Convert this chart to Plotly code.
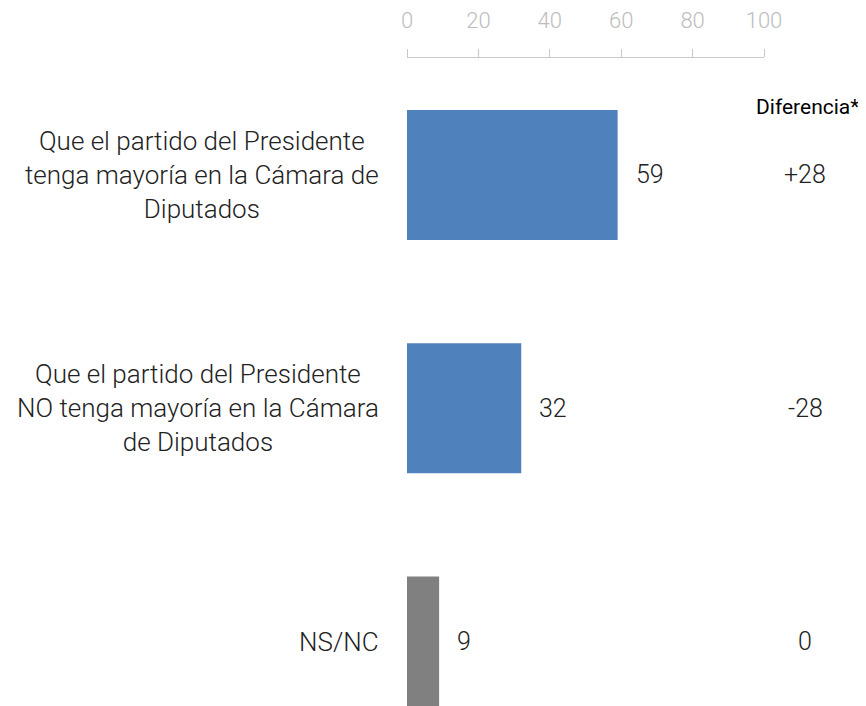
import plotly.graph_objects as go

categories = [
    "Que el partido del Presidente<br>tenga mayoría en la Cámara de<br>Diputados",
    "Que el partido del Presidente<br>NO tenga mayoría en la Cámara<br>de Diputados",
    "NS/NC",
]
values = [59, 32, 9]
diferencias = ["+28", "-28", "0"]
bar_colors = ["#4f81bd", "#4f81bd", "#808080"]
x_ticks = [0, 20, 40, 60, 80, 100]
diff_header = "Diferencia*"

FONT = "Roboto"
idx = list(range(len(categories)))

# page body has an 8px margin; figure sized so plot lands where intended
W, H = 858, 698
L, R, T, B = 399, 102, 50, 0
plot_w = W - L - R
plot_h = H - T - B

fig = go.Figure()
fig.add_trace(go.Bar(
    x=values, y=idx, orientation="h",
    marker=dict(color=bar_colors, line=dict(width=0)),
    width=0.557, hoverinfo="skip",
))

annotations = []
for i, (cat, v, d) in enumerate(zip(categories, values, diferencias)):
    annotations.append(dict(x=0, y=i, xref="x", yref="y", text=cat, showarrow=False,
                            xanchor="right", align="center", xshift=-26,
                            font=dict(family=FONT, size=26, color="#222", weight=300)))
    annotations.append(dict(x=v, y=i, xref="x", yref="y", text=str(v), showarrow=False,
                            xanchor="left", xshift=16,
                            font=dict(family=FONT, size=25, color="#222", weight=300)))
    annotations.append(dict(x=1 + 41 / plot_w, y=i, xref="paper", yref="y", text=d,
                            showarrow=False, xanchor="center",
                            font=dict(family=FONT, size=25, color="#222", weight=300)))
annotations.append(dict(x=1 + 97 / plot_w, y=1 - 49 / plot_h, xref="paper", yref="paper",
                        text=diff_header, showarrow=False, xanchor="right", yanchor="middle",
                        font=dict(family=FONT, size=21, color="#000", weight=400)))

fig.update_layout(
    width=W, height=H,
    margin=dict(l=L, r=R, t=T, b=B, pad=0),
    paper_bgcolor="white", plot_bgcolor="white",
    showlegend=False,
    annotations=annotations,
    xaxis=dict(side="top", range=[0, 100], tickvals=x_ticks,
               ticks="outside", ticklen=8, tickcolor="#c8c8c8", tickwidth=1,
               showline=True, linecolor="#c8c8c8", linewidth=1,
               showgrid=False, zeroline=False,
               tickfont=dict(family=FONT, size=22, color="#bdbdbd", weight=300),
               ticklabelstandoff=12),
    yaxis=dict(range=[2.2765, -0.5015], showticklabels=False, showgrid=False,
               zeroline=False, showline=False, ticks=""),
)

fig.write_html("out.html")
